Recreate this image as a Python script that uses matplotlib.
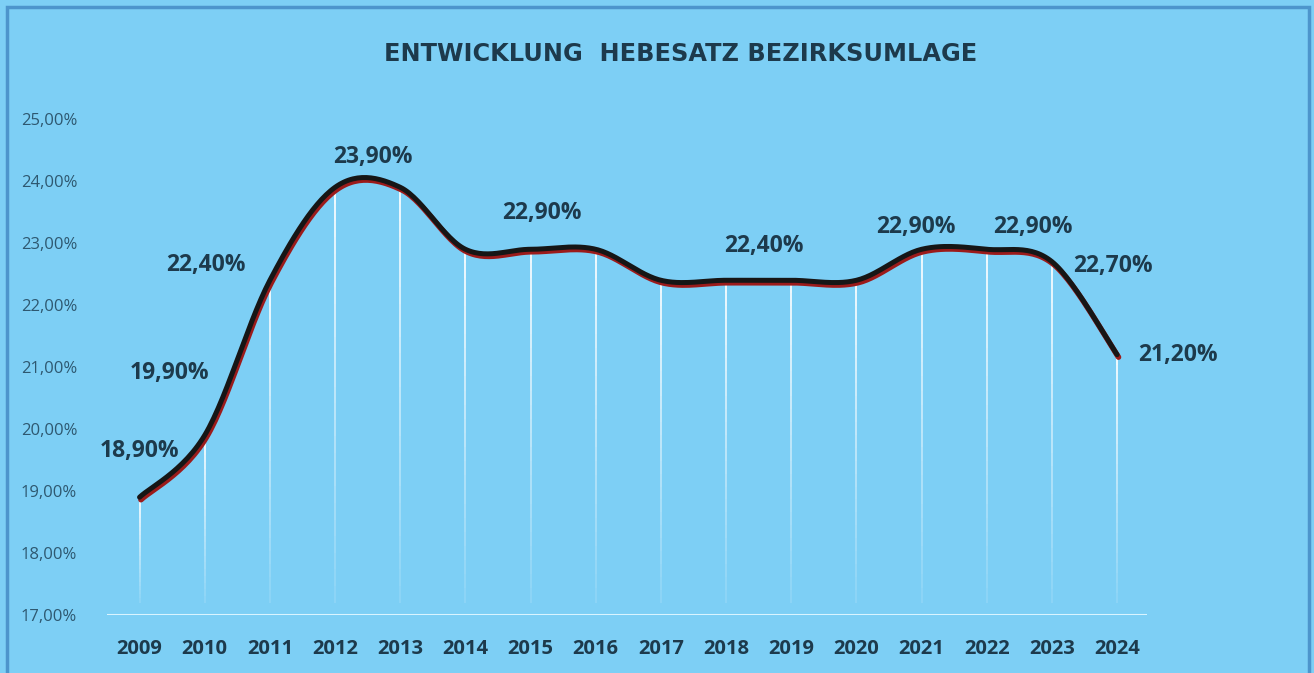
import numpy as np
import matplotlib.pyplot as plt
from matplotlib.patches import Rectangle
from matplotlib import transforms

# values in percent
years = [2009, 2010, 2011, 2012, 2013, 2014, 2015, 2016,
         2017, 2018, 2019, 2020, 2021, 2022, 2023, 2024]
rates = [18.9, 19.9, 22.4, 23.9, 23.9, 22.9, 22.9, 22.9,
         22.4, 22.4, 22.4, 22.4, 22.9, 22.9, 22.7, 21.2]
# which points get a label, and the label text
label_years = [2009, 2010, 2011, 2012, 2015, 2018, 2021, 2022, 2023, 2024]
label_texts = ["18,90%", "19,90%", "22,40%", "23,90%", "22,90%",
               "22,40%", "22,90%", "22,90%", "22,70%", "21,20%"]
# label offsets in points (dx, dy)
label_offsets = [(0, 33), (-25, 45), (-46, 11), (27, 22), (8, 26),
                 (27, 25), (-4, 16), (33, 16), (44, -3), (44, 0)]
yticks = [17, 18, 19, 20, 21, 22, 23, 24, 25]

BG = "#7dcff5"
DARK = "#1d3a4c"
plt.rcParams['font.family'] = ['Open Sans', 'DejaVu Sans']

fig = plt.figure(figsize=(13.14, 6.73), dpi=100, facecolor=BG)
ax = fig.add_axes([0.0814, 0.0862, 0.7916, 0.7368])
ax.set_facecolor(BG)

# frame around the picture
fig.patches.append(Rectangle((0.005, -0.01), 0.991, 1.0, transform=fig.transFigure,
                             fill=False, edgecolor="#4d95cc", linewidth=2.5))


def smooth(xs, ys, n=30):
    # excel-like smoothed line (bezier with catmull-rom control points)
    xs = np.asarray(xs, float)
    ys = np.asarray(ys, float)
    px, py = [], []
    for i in range(len(xs) - 1):
        x0, y0 = (xs[i - 1], ys[i - 1]) if i > 0 else (xs[i], ys[i])
        x3, y3 = (xs[i + 2], ys[i + 2]) if i + 2 < len(xs) else (xs[i + 1], ys[i + 1])
        x1, y1 = xs[i], ys[i]
        x2, y2 = xs[i + 1], ys[i + 1]
        c1 = (x1 + (x2 - x0) / 6, y1 + (y2 - y0) / 6)
        c2 = (x2 - (x3 - x1) / 6, y2 - (y3 - y1) / 6)
        t = np.linspace(0, 1, n)
        bx = (1 - t) ** 3 * x1 + 3 * (1 - t) ** 2 * t * c1[0] + 3 * (1 - t) * t ** 2 * c2[0] + t ** 3 * x2
        by = (1 - t) ** 3 * y1 + 3 * (1 - t) ** 2 * t * c1[1] + 3 * (1 - t) * t ** 2 * c2[1] + t ** 3 * y2
        px.extend(bx)
        py.extend(by)
    return np.array(px), np.array(py)


# fading white drop lines
steps = 25
for k in range(steps):
    for x, v in zip(years, rates):
        lo = 17.2 + (v - 17.2) * k / steps
        hi = 17.2 + (v - 17.2) * (k + 1) / steps
        ax.plot([x, x], [lo, hi], color="white", lw=1.3,
                alpha=0.1 + 0.85 * (k + 1) / steps, solid_capstyle="butt", zorder=2)

sx, sy = smooth(years, rates)
shadow = transforms.offset_copy(ax.transData, fig=fig, x=1.0, y=-1.8, units="points")
ax.plot(sx, sy, color="#9b1b1b", lw=4, transform=shadow, zorder=3, solid_capstyle="round")
ax.plot(sx, sy, color="#161616", lw=3.6, zorder=4, solid_capstyle="round")

for yr, txt, (dx, dy) in zip(label_years, label_texts, label_offsets):
    v = rates[years.index(yr)]
    ax.annotate(txt, (yr, v), xytext=(dx, dy), textcoords="offset points",
                ha="center", va="center", fontsize=16.5, fontweight="bold", color=DARK)

# baseline
ax.axhline(17, color="#d9f4ff", lw=2.2, zorder=2)

ax.set_xlim(2008.5, 2024.46)
ax.set_ylim(17, 25)
for s in ax.spines.values():
    s.set_visible(False)
ax.set_xticks(years)
ax.set_xticklabels([str(y) for y in years], fontsize=14.5, fontweight="bold", color=DARK)
ax.set_yticks(yticks)
ax.set_yticklabels(["%d,00%%" % t for t in yticks], fontsize=12, color="#2e5870",
                   ha="left")
ax.tick_params(axis="both", length=0)
ax.tick_params(axis="x", pad=17)
ax.tick_params(axis="y", pad=62)

fig.text(0.518, 0.92, "ENTWICKLUNG  HEBESATZ BEZIRKSUMLAGE", ha="center", va="center",
         fontsize=17.3, fontweight="bold", color=DARK, family="DejaVu Sans")

fig.savefig("out.png", dpi=100, facecolor=BG)
